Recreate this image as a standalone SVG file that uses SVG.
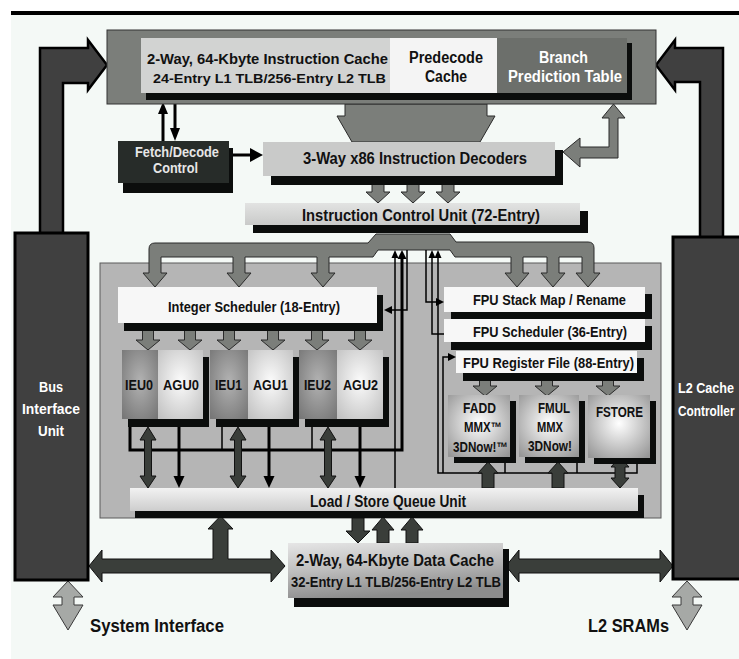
<svg xmlns="http://www.w3.org/2000/svg" width="739" height="659" viewBox="0 0 739 659">
<defs>
<style>
.t{font-family:"Liberation Sans",Arial,sans-serif;font-weight:bold;fill:#111}
.w{fill:#fff}
.lt{fill:#e6e6e6}
.sh{fill:#0b0d0c}
.gar{fill:#7b7e7a;stroke:#2a2a2a;stroke-width:1}
.dar{fill:#3a3e3a;stroke:#111;stroke-width:1}
.bus{fill:#404040;stroke:#000;stroke-width:2.5}
.lgar{fill:#a6a9a6;stroke:#3a3a3a;stroke-width:1}
.ln{stroke:#000;fill:none;stroke-width:1.5}
.lnb{stroke:#000;fill:none;stroke-width:3}
.ah{fill:#000}
</style>
<radialGradient id="gIEU" cx="50%" cy="45%" r="70%"><stop offset="0" stop-color="#b2b2b2"/><stop offset="1" stop-color="#777"/></radialGradient>
<radialGradient id="gAGU" cx="50%" cy="45%" r="70%"><stop offset="0" stop-color="#fbfbfb"/><stop offset="1" stop-color="#c2c2c2"/></radialGradient>
<radialGradient id="gFPU" cx="50%" cy="45%" r="70%"><stop offset="0" stop-color="#fff"/><stop offset="1" stop-color="#979797"/></radialGradient>
<linearGradient id="gLSQ" x1="0" y1="0" x2="0" y2="1"><stop offset="0" stop-color="#f2f2f2"/><stop offset="1" stop-color="#cdcdcd"/></linearGradient>
<linearGradient id="gICU" x1="0" y1="0" x2="0" y2="1"><stop offset="0" stop-color="#e2e3e2"/><stop offset="1" stop-color="#c9cac9"/></linearGradient>
<linearGradient id="gDC" x1="0" y1="0" x2="0.3" y2="1"><stop offset="0" stop-color="#e6e6e6"/><stop offset="0.5" stop-color="#bdbdbd"/><stop offset="1" stop-color="#8c8c8c"/></linearGradient>
</defs>

<rect x="0" y="0" width="739" height="659" fill="#fff"/>
<rect x="11" y="15" width="728" height="644" fill="#f4f9f6"/>
<rect x="11" y="11" width="728" height="4" fill="#000"/>

<g id="execution-core">
<rect x="100" y="263" width="561" height="255" fill="#b5b5b5" stroke="#5a5a5a" stroke-width="1"/>
</g>

<g id="connectors">
<polygon class="bus" points="40,234 40,48 88,48 88,40 107,65 88,90 88,83 63,83 63,234"/>
<polygon class="bus" points="723,238 723,48 675,48 675,40 656,65 675,90 675,82 700,82 700,238"/>
<polygon class="gar" points="345,104 487,104 487,116 495,116 480,142 352,142 337,116 345,116"/>
<line class="lnb" x1="163" y1="141" x2="163" y2="112"/>
<polygon class="ah" points="158,114 163,102 168,114"/>
<line class="lnb" x1="175" y1="104" x2="175" y2="130"/>
<polygon class="ah" points="170,128 175,141 180,128"/>
<line class="lnb" x1="232" y1="155" x2="252" y2="155"/>
<polygon class="ah" points="250,148 263,155 250,162"/>
<path class="gar" d="M563,152 L580,138 L580,147 L609,147 L609,118 L602,118 L613.5,104 L625,118 L618,118 L618,158 L580,158 L580,167 Z"/>
<polygon class="gar" points="372,184 384,184 384,192 390,192 378,203 366,192 372,192"/>
<polygon class="gar" points="407,184 419,184 419,192 425,192 413,203 401,192 407,192"/>
<polygon class="gar" points="442,184 454,184 454,192 460,192 448,203 436,192 442,192"/>
<path class="gar" d="M149,249 Q149,243 155,243 L368,243 L376,234 L450,234 L456,242 L588,242 Q594,242 594,248 L594,273 L600,273 L588,287 L576,273 L582,273 L582,257 L559,257 L559,273 L565,273 L553,287 L541,273 L547,273 L547,257 L523,257 L523,273 L529,273 L517,287 L505,273 L511,273 L511,257 L455,257 L450,250 L378,250 L373,257 L329,257 L329,273 L335,273 L323,287 L311,273 L317,273 L317,257 L245,257 L245,273 L251,273 L239,287 L227,273 L233,273 L233,257 L161,257 L161,273 L167,273 L155,287 L143,273 L149,273 Z"/>
<line class="ln" x1="395" y1="256" x2="395" y2="488"/>
<polygon class="ah" points="391.5,258 395,250 398.5,258"/>
<polyline class="lnb" points="130,427 130,450 402,450 402,256"/>
<line class="ln" x1="222" y1="427" x2="222" y2="450"/>
<line class="ln" x1="312" y1="427" x2="312" y2="450"/>
<polygon class="ah" points="397.5,259 402,250 406.5,259"/>
<polyline class="ln" points="407,250 407,310 390,310"/>
<polygon class="ah" points="392,306 384,310 392,314"/>
<polyline class="ln" points="426,250 426,302 438,302"/>
<polygon class="ah" points="436,298 444,302 436,306"/>
<polyline class="ln" points="444,334 432,334 432,256"/>
<polygon class="ah" points="428.5,258 432,250 435.5,258"/>
<polyline class="ln" points="637,464 637,473 438,473 438,256"/>
<polygon class="ah" points="434.5,258 438,250 441.5,258"/>
<line class="ln" x1="505" y1="463" x2="505" y2="473"/>
<line class="ln" x1="577" y1="463" x2="577" y2="473"/>
<polyline class="ln" points="443,473 443,357 450,357"/>
<polygon class="ah" points="448,353 456,357 448,361"/>
<polygon class="gar" points="142.5,325 153.5,325 153.5,340 160,340 148,350 136,340 142.5,340"/>
<polygon class="gar" points="184.5,325 195.5,325 195.5,340 202,340 190,350 178,340 184.5,340"/>
<polygon class="gar" points="223.5,325 234.5,325 234.5,340 241,340 229,350 217,340 223.5,340"/>
<polygon class="gar" points="267.5,325 278.5,325 278.5,340 285,340 273,350 261,340 267.5,340"/>
<polygon class="gar" points="311.5,325 322.5,325 322.5,340 329,340 317,350 305,340 311.5,340"/>
<polygon class="gar" points="354.5,325 365.5,325 365.5,340 372,340 360,350 348,340 354.5,340"/>
<polygon class="dar" points="148,427 156,440 151.5,440 151.5,476 156,476 148,488 140,476 144.5,476 144.5,440 140,440"/>
<polygon class="dar" points="238,427 246,440 241.5,440 241.5,476 246,476 238,488 230,476 234.5,476 234.5,440 230,440"/>
<polygon class="dar" points="328,427 336,440 331.5,440 331.5,476 336,476 328,488 320,476 324.5,476 324.5,440 320,440"/>
<line class="lnb" x1="179" y1="427" x2="179" y2="478"/>
<polygon class="ah" points="173.5,476 179,488 184.5,476"/>
<line class="lnb" x1="269" y1="427" x2="269" y2="478"/>
<polygon class="ah" points="263.5,476 269,488 274.5,476"/>
<line class="lnb" x1="360" y1="427" x2="360" y2="478"/>
<polygon class="ah" points="354.5,476 360,488 365.5,476"/>
<polygon class="gar" points="479.5,380 490.5,380 490.5,386 497,386 485,396 473,386 479.5,386"/>
<polygon class="gar" points="541.5,380 552.5,380 552.5,386 559,386 547,396 535,386 541.5,386"/>
<polygon class="gar" points="602.5,380 613.5,380 613.5,386 620,386 608,396 596,386 602.5,386"/>
<polygon class="dar" points="488,462 498,473 494,473 494,488 482,488 482,473 478,473"/>
<polygon class="dar" points="558,462 568,473 564,473 564,488 552,488 552,473 548,473"/>
<polygon class="dar" points="620,457 629,467 625,467 625,478 629,478 620,488 611,478 615,478 615,467 611,467"/>
<polygon class="dar" points="352,518 364,518 364,531 370,531 358,543 346,531 352,531"/>
<polygon class="dar" points="383,517 394,530 389,530 389,543 377,543 377,530 372,530"/>
<polygon class="dar" points="412,517 423,530 418,530 418,543 406,543 406,530 401,530"/>
<path class="dar" d="M89,566 L102,550 L102,559 L213,559 L213,529 L208,529 L220.5,516 L233,529 L228,529 L228,559 L271,559 L271,550 L285,566 L271,582 L271,573 L102,573 L102,582 Z"/>
<path class="dar" d="M506,566 L519,550 L519,559 L660,559 L660,550 L673,566 L660,582 L660,573 L519,573 L519,582 Z"/>
<polygon class="lgar" points="68,581 83,597 74,597 74,605 83,605 68,630 53,605 62,605 62,597 53,597"/>
<polygon class="lgar" points="687,581 702,597 693,597 693,605 702,605 687,630 672,605 681,605 681,597 672,597"/>
</g>

<g id="bus-interface-unit">
<rect x="15" y="233" width="73" height="347" fill="#404040" stroke="#000" stroke-width="3"/>
<text class="t w" x="39" y="392" font-size="15" textLength="24" lengthAdjust="spacingAndGlyphs">Bus</text>
<text class="t w" x="22" y="414" font-size="15" textLength="58" lengthAdjust="spacingAndGlyphs">Interface</text>
<text class="t w" x="38" y="436" font-size="15" textLength="26" lengthAdjust="spacingAndGlyphs">Unit</text>
</g>

<g id="l2-cache-controller">
<rect x="673" y="237" width="75" height="342" fill="#404040" stroke="#000" stroke-width="3"/>
<text class="t w" transform="translate(678,393) scale(0.84,1)" x="0" y="0" font-size="15">L2 Cache</text>
<text class="t w" transform="translate(678,416) scale(0.79,1)" x="0" y="0" font-size="15">Controller</text>
</g>

<g id="instruction-cache">
<rect x="107" y="30" width="549" height="74" fill="#7b7e7a" stroke="#333" stroke-width="1"/>
<rect class="sh" x="146" y="43" width="486" height="57"/>
<rect x="141" y="38" width="249" height="55" fill="#d2d3d2"/>
<text class="t" x="147" y="64" font-size="15" textLength="241" lengthAdjust="spacingAndGlyphs">2-Way, 64-Kbyte Instruction Cache</text>
<text class="t" x="153" y="83" font-size="13" textLength="233" lengthAdjust="spacingAndGlyphs">24-Entry L1 TLB/256-Entry L2 TLB</text>
</g>
<g id="predecode-cache">
<rect x="390" y="38" width="107" height="55" fill="#f4f4f4"/>
<text class="t" x="409" y="63" font-size="16" textLength="74" lengthAdjust="spacingAndGlyphs">Predecode</text>
<text class="t" x="425" y="82" font-size="16" textLength="42" lengthAdjust="spacingAndGlyphs">Cache</text>
</g>
<g id="branch-prediction-table">
<rect x="497" y="38" width="130" height="55" fill="#6c6f6b"/>
<text class="t w" x="539" y="63" font-size="16" textLength="49" lengthAdjust="spacingAndGlyphs">Branch</text>
<text class="t w" x="508" y="82" font-size="16" textLength="114" lengthAdjust="spacingAndGlyphs">Prediction Table</text>
</g>

<g id="fetch-decode-control">
<rect class="sh" x="123" y="148" width="110" height="45"/>
<rect x="118" y="141" width="111" height="42" fill="#272c29"/>
<text class="t lt" x="135" y="157" font-size="14" textLength="84" lengthAdjust="spacingAndGlyphs">Fetch/Decode</text>
<text class="t lt" x="153" y="173" font-size="14" textLength="45" lengthAdjust="spacingAndGlyphs">Control</text>
</g>

<g id="instruction-decoders">
<rect class="sh" x="271" y="150" width="292" height="35"/>
<rect x="263" y="142" width="292" height="34" fill="#c9cac9"/>
<text class="t" x="303" y="164" font-size="16" textLength="224" lengthAdjust="spacingAndGlyphs">3-Way x86 Instruction Decoders</text>
</g>

<g id="instruction-control-unit">
<rect class="sh" x="253" y="211" width="335" height="22"/>
<rect x="245" y="203" width="335" height="22" fill="url(#gICU)"/>
<text class="t" x="302" y="221" font-size="16" textLength="238" lengthAdjust="spacingAndGlyphs">Instruction Control Unit (72-Entry)</text>
</g>

<g id="integer-scheduler">
<rect class="sh" x="124" y="295" width="259" height="36"/>
<rect x="118" y="287" width="259" height="36" fill="#f7f7f7"/>
<text class="t" x="168" y="312" font-size="15" textLength="172" lengthAdjust="spacingAndGlyphs">Integer Scheduler (18-Entry)</text>
</g>

<g id="ieu-agu-0">
<rect class="sh" x="128" y="357" width="81" height="70"/>
<rect x="122" y="350" width="36" height="69" fill="url(#gIEU)"/>
<rect x="158" y="350" width="45" height="69" fill="url(#gAGU)"/>
<text class="t" x="125" y="390" font-size="15" textLength="28" lengthAdjust="spacingAndGlyphs">IEU0</text>
<text class="t" x="163" y="390" font-size="15" textLength="36" lengthAdjust="spacingAndGlyphs">AGU0</text>
</g>
<g id="ieu-agu-1">
<rect class="sh" x="216" y="357" width="83" height="70"/>
<rect x="210" y="350" width="38" height="69" fill="url(#gIEU)"/>
<rect x="248" y="350" width="45" height="69" fill="url(#gAGU)"/>
<text class="t" x="215" y="390" font-size="15" textLength="27" lengthAdjust="spacingAndGlyphs">IEU1</text>
<text class="t" x="253" y="390" font-size="15" textLength="35" lengthAdjust="spacingAndGlyphs">AGU1</text>
</g>
<g id="ieu-agu-2">
<rect class="sh" x="305" y="357" width="84" height="70"/>
<rect x="299" y="350" width="38" height="69" fill="url(#gIEU)"/>
<rect x="337" y="350" width="46" height="69" fill="url(#gAGU)"/>
<text class="t" x="304" y="390" font-size="15" textLength="27" lengthAdjust="spacingAndGlyphs">IEU2</text>
<text class="t" x="343" y="390" font-size="15" textLength="35" lengthAdjust="spacingAndGlyphs">AGU2</text>
</g>

<g id="fpu-stack-map">
<rect class="sh" x="451" y="294" width="201" height="25"/>
<rect x="444" y="287" width="201" height="25" fill="#f7f7f7"/>
<text class="t" x="473" y="305" font-size="15" textLength="153" lengthAdjust="spacingAndGlyphs">FPU Stack Map / Rename</text>
</g>
<g id="fpu-scheduler">
<rect class="sh" x="451" y="326" width="201" height="24"/>
<rect x="444" y="319" width="201" height="23" fill="#f7f7f7"/>
<text class="t" x="473" y="337" font-size="15" textLength="154" lengthAdjust="spacingAndGlyphs">FPU Scheduler (36-Entry)</text>
</g>
<g id="fpu-register-file">
<rect class="sh" x="463" y="358" width="181" height="23"/>
<rect x="456" y="351" width="181" height="22" fill="#f7f7f7"/>
<text class="t" x="463" y="368" font-size="15" textLength="171" lengthAdjust="spacingAndGlyphs">FPU Register File (88-Entry)</text>
</g>

<g id="fadd">
<rect class="sh" x="454" y="401" width="62" height="62"/>
<rect x="448" y="395" width="62" height="62" fill="url(#gFPU)"/>
<text class="t" x="463" y="413" font-size="14" textLength="33" lengthAdjust="spacingAndGlyphs">FADD</text>
<text class="t" x="464" y="432" font-size="14" textLength="38" lengthAdjust="spacingAndGlyphs">MMX™</text>
<text class="t" x="453" y="452" font-size="14" textLength="55" lengthAdjust="spacingAndGlyphs">3DNow!™</text>
</g>
<g id="fmul">
<rect class="sh" x="525" y="401" width="60" height="62"/>
<rect x="519" y="395" width="60" height="62" fill="url(#gFPU)"/>
<text class="t" x="538" y="413" font-size="14" textLength="32" lengthAdjust="spacingAndGlyphs">FMUL</text>
<text class="t" x="537" y="432" font-size="14" textLength="26" lengthAdjust="spacingAndGlyphs">MMX</text>
<text class="t" x="528" y="451" font-size="14" textLength="44" lengthAdjust="spacingAndGlyphs">3DNow!</text>
</g>
<g id="fstore">
<rect class="sh" x="594" y="401" width="62" height="63"/>
<rect x="588" y="395" width="62" height="63" fill="url(#gFPU)"/>
<text class="t" x="596" y="417" font-size="14" textLength="47" lengthAdjust="spacingAndGlyphs">FSTORE</text>
</g>

<g id="load-store-queue">
<rect class="sh" x="135" y="495" width="509" height="23"/>
<rect x="130" y="488" width="508" height="23" fill="url(#gLSQ)"/>
<text class="t" x="310" y="507" font-size="17" textLength="156" lengthAdjust="spacingAndGlyphs">Load / Store Queue Unit</text>
</g>

<g id="data-cache">
<rect class="sh" x="294" y="549" width="215" height="58"/>
<rect x="288" y="543" width="215" height="55" fill="url(#gDC)"/>
<text class="t" x="296" y="566" font-size="17" textLength="198" lengthAdjust="spacingAndGlyphs">2-Way, 64-Kbyte Data Cache</text>
<text class="t" x="291" y="587" font-size="15" textLength="210" lengthAdjust="spacingAndGlyphs">32-Entry L1 TLB/256-Entry L2 TLB</text>
</g>

<g id="system-interface">
<text class="t" x="90" y="632" font-size="18" textLength="134" lengthAdjust="spacingAndGlyphs">System Interface</text>
</g>
<g id="l2-srams">
<text class="t" x="588" y="632" font-size="18" textLength="81" lengthAdjust="spacingAndGlyphs">L2 SRAMs</text>
</g>
</svg>
